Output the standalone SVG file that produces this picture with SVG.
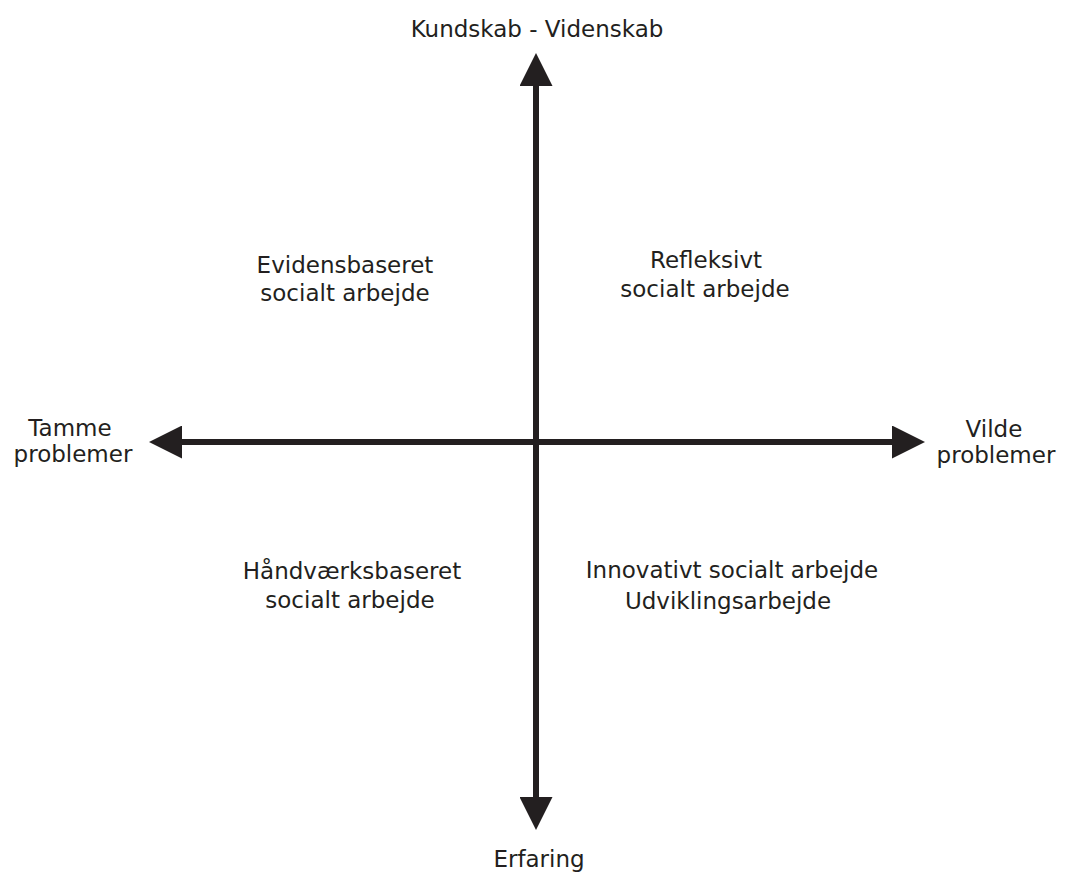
<svg xmlns="http://www.w3.org/2000/svg" width="1065" height="873" viewBox="0 0 1065 873">
<style>
.t{font-family:"DejaVu Sans","Liberation Sans",sans-serif;font-size:23px;fill:#231f20;text-anchor:middle}
.ax{stroke:#231f20;stroke-width:6;fill:none}
</style>
<defs>
<marker id="ah" markerUnits="userSpaceOnUse" markerWidth="33" markerHeight="33" viewBox="0 0 32 32" refX="0" refY="16" orient="auto-start-reverse">
<path d="M0,0 L32,16 L0,32 Z" fill="#231f20"/>
</marker>
</defs>
<rect width="1065" height="873" fill="#ffffff"/>
<g id="connectors">
<line class="ax" x1="536" y1="797" x2="536" y2="86" marker-start="url(#ah)" marker-end="url(#ah)"/>
<line class="ax" x1="182" y1="442" x2="892" y2="442" marker-start="url(#ah)" marker-end="url(#ah)"/>
</g>
<g id="top-label"><text class="t" x="537" y="37">Kundskab - Videnskab</text></g>
<g id="bottom-label"><text class="t" x="539" y="867">Erfaring</text></g>
<g id="left-label"><text class="t" x="70" y="436">Tamme</text><text class="t" x="73" y="462">problemer</text></g>
<g id="right-label"><text class="t" x="994" y="437">Vilde</text><text class="t" x="996" y="463">problemer</text></g>
<g id="q-top-left"><text class="t" x="345" y="273">Evidensbaseret</text><text class="t" x="345" y="301">socialt arbejde</text></g>
<g id="q-top-right"><text class="t" x="706" y="268">Refleksivt</text><text class="t" x="705" y="297">socialt arbejde</text></g>
<g id="q-bottom-left"><text class="t" x="352" y="579">Håndværksbaseret</text><text class="t" x="350" y="608">socialt arbejde</text></g>
<g id="q-bottom-right"><text class="t" x="732" y="578">Innovativt socialt arbejde</text><text class="t" x="728" y="609">Udviklingsarbejde</text></g>
</svg>
